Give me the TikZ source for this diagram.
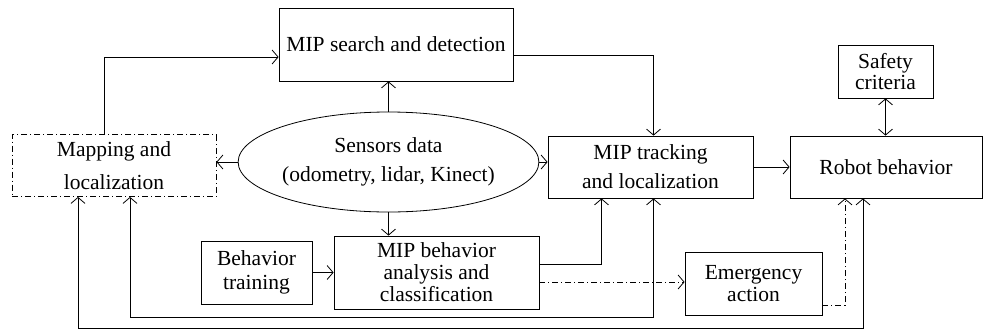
\documentclass[tikz,border=0pt]{standalone}
\usepackage{fontspec}
\setmainfont{Liberation Serif}
\usetikzlibrary{arrows.meta,shapes.geometric}
\tikzset{
  box/.style={draw,line width=0.8pt,inner sep=0pt,align=center,font=\fontsize{21.5}{24}\selectfont},
  dashdot/.style={dash pattern=on 6pt off 3pt on 1pt off 3pt},
  arr/.style={line width=0.8pt,-{Straight Barb[length=6pt,width=14pt]}},
  dblarr/.style={line width=0.8pt,{Straight Barb[length=6pt,width=14pt]}-{Straight Barb[length=6pt,width=14pt]}}
}
\begin{document}
\begin{tikzpicture}[x=1pt,y=-1pt]
\useasboundingbox (0,0) rectangle (984,330);
% boxes
\node[box,minimum width=234,minimum height=73](search)at(396,44.5){MIP search and detection};
\node[box,dashdot,minimum width=204,minimum height=62](mapping)at(114,165.5){Mapping and\\[9pt]localization};
\node[box,ellipse,minimum width=253,minimum height=100](sensors)at(388.5,162){Sensors data\\[5pt](odometry, lidar, Kinect)};
\node[box,minimum width=205,minimum height=62](tracking)at(650.5,167){MIP tracking\\[5pt]and localization};
\node[box,minimum width=192,minimum height=62](robot)at(886,167){Robot behavior};
\node[box,minimum width=95,minimum height=53](safety)at(885.5,71.5){Safety\\[-3pt]criteria};
\node[box,minimum width=111,minimum height=63](training)at(256.5,272.5){Behavior\\training};
\node[box,minimum width=205,minimum height=73](analysis)at(436.5,272.5){MIP behavior\\[-2pt]analysis and\\[-2pt]classification};
\node[box,minimum width=137,minimum height=63](emergency)at(753.5,283.5){Emergency\\[-2pt]action};
% connectors
\draw[arr]([xshift=-10]mapping.north)|-([yshift=-12.5]search.west);
\draw[arr](sensors.north)--(sensors.north|-search.south);
\draw[arr](sensors.west)--(sensors.west-|mapping.east);
\draw[arr](sensors.east)--(sensors.east-|tracking.west);
\draw[arr](sensors.south)--(sensors.south|-analysis.north);
\draw[arr]([yshift=-10.5]search.east)-|([xshift=3]tracking.north);
\draw[arr](tracking.east)--(robot.west);
\draw[dblarr](safety.south)--(safety.south|-robot.north);
\draw[arr](training.east)--(analysis.west);
\draw[arr]([yshift=8.5]analysis.east)-|([xshift=-49]tracking.south);
\draw[arr,dashdot]([yshift=-9.5]analysis.east)--([yshift=-9.5]analysis.east-|emergency.west);
\draw[arr,dashdot]([yshift=-22]emergency.east)-|([xshift=-41]robot.south);
% feedback to mapping
\draw[dblarr]([xshift=3]tracking.south)--++(0,119)-|([xshift=16]mapping.south);
\draw[dblarr]([xshift=-36]mapping.south)--++(0,131.5)-|([xshift=-23]robot.south);
\end{tikzpicture}
\end{document}
